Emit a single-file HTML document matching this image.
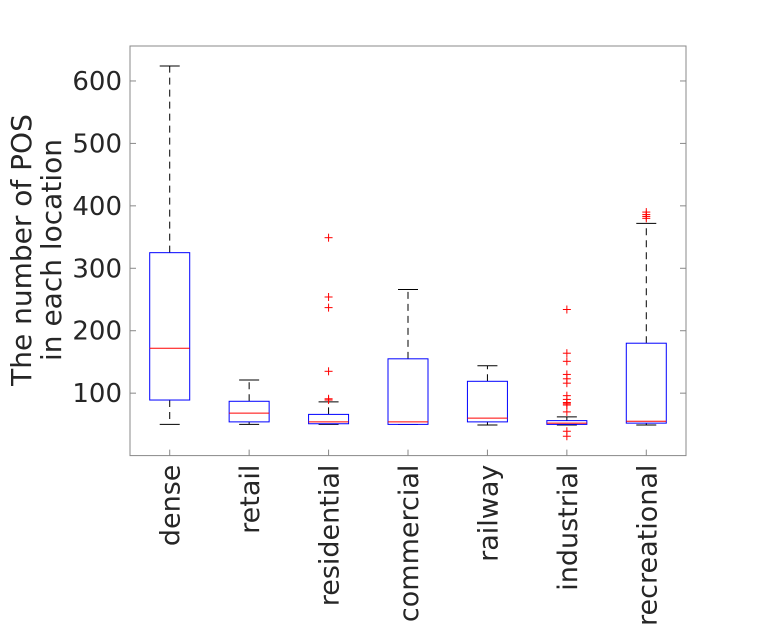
<!DOCTYPE html>
<html><head><meta charset="utf-8"><style>
body{margin:0;background:#fff;}
svg{font-family:"DejaVu Sans","Liberation Sans",sans-serif;}
</style></head><body>
<svg id="c" width="759" height="625" xmlns="http://www.w3.org/2000/svg"></svg>
<script>
const categories=["dense","retail","residential","commercial","railway","industrial","recreational"];
const lowWhisker=[50,50,50,50,49,49,49];
const q1=[89,54,51,50,54,50,52];
const medians=[172,68,54,54,60,52,55];
const q3=[325,87,66,155,119,56,180];
const highWhisker=[624,121,86,266,144,62,372];
const outliers=[[],[],[349,254,237,135,91,89],[],[],[234,164,151,130,123,116,96,90,85,83,81,70,39,31],[380,383,386,390]];
const yTicks=[100,200,300,400,500,600];
const L=130,R=686,T=46,B=455.6,ymin=0,ymax=656;
const svg=document.getElementById('c');const NS="http://www.w3.org/2000/svg";
function y(v){return B-(v-ymin)/(ymax-ymin)*(B-T);}
function x(i){return L+(i+0.5)*(R-L)/categories.length;}
function mk(t,a,p){const e=document.createElementNS(NS,t);for(const k in a)e.setAttribute(k,a[k]);(p||svg).appendChild(e);return e;}
const frame=mk('rect',{x:L,y:T,width:R-L,height:B-T,fill:'none',stroke:'#888','stroke-width':1});


yTicks.forEach(v=>{
 mk('line',{x1:L,x2:L+6,y1:y(v),y2:y(v),stroke:'#888'});
 mk('line',{x1:R,x2:R-6,y1:y(v),y2:y(v),stroke:'#888'});
 const t=mk('text',{x:L-8,y:y(v)+9,'text-anchor':'end','font-size':'26',fill:'#262626'});t.textContent=v;
 
 
});
categories.forEach((c,i)=>{
 const cx=x(i),hw=20,cw=10;
 const g=mk('g',{});
 
 
 mk('line',{x1:cx,x2:cx,y1:B,y2:B-6,stroke:'#888'},g);
 mk('line',{x1:cx,x2:cx,y1:y(q3[i]),y2:y(highWhisker[i]),stroke:'#000','stroke-dasharray':'7,5'},g);
 mk('line',{x1:cx,x2:cx,y1:y(q1[i]),y2:y(lowWhisker[i]),stroke:'#000','stroke-dasharray':'7,5'},g);
 mk('line',{x1:cx-cw,x2:cx+cw,y1:y(highWhisker[i]),y2:y(highWhisker[i]),stroke:'#000'},g);
 mk('line',{x1:cx-cw,x2:cx+cw,y1:y(lowWhisker[i]),y2:y(lowWhisker[i]),stroke:'#000'},g);
 mk('rect',{x:cx-hw,y:y(q3[i]),width:2*hw,height:Math.max(1,y(q1[i])-y(q3[i])),fill:'#fff',stroke:'#00f'},g);
 mk('line',{x1:cx-hw,x2:cx+hw,y1:y(medians[i]),y2:y(medians[i]),stroke:'#f00'},g);
 outliers[i].forEach(v=>{
  mk('line',{x1:cx-4,x2:cx+4,y1:y(v),y2:y(v),stroke:'#f00'},g);
  mk('line',{x1:cx,x2:cx,y1:y(v)-4,y2:y(v)+4,stroke:'#f00'},g);
 });
 const t=mk('text',{transform:`translate(${cx+10},${B+9}) rotate(-90)`,'text-anchor':'end','font-size':'27',fill:'#262626'});t.textContent=c;
 
 
});
const yl=mk('text',{transform:'translate(31,250) rotate(-90)','text-anchor':'middle','font-size':'28',fill:'#262626'});


const t1=mk('tspan',{x:0,y:0},yl);t1.textContent='The number of POS';
const t2=mk('tspan',{x:0,y:30},yl);t2.textContent='in each location';
</script>
</body></html>
